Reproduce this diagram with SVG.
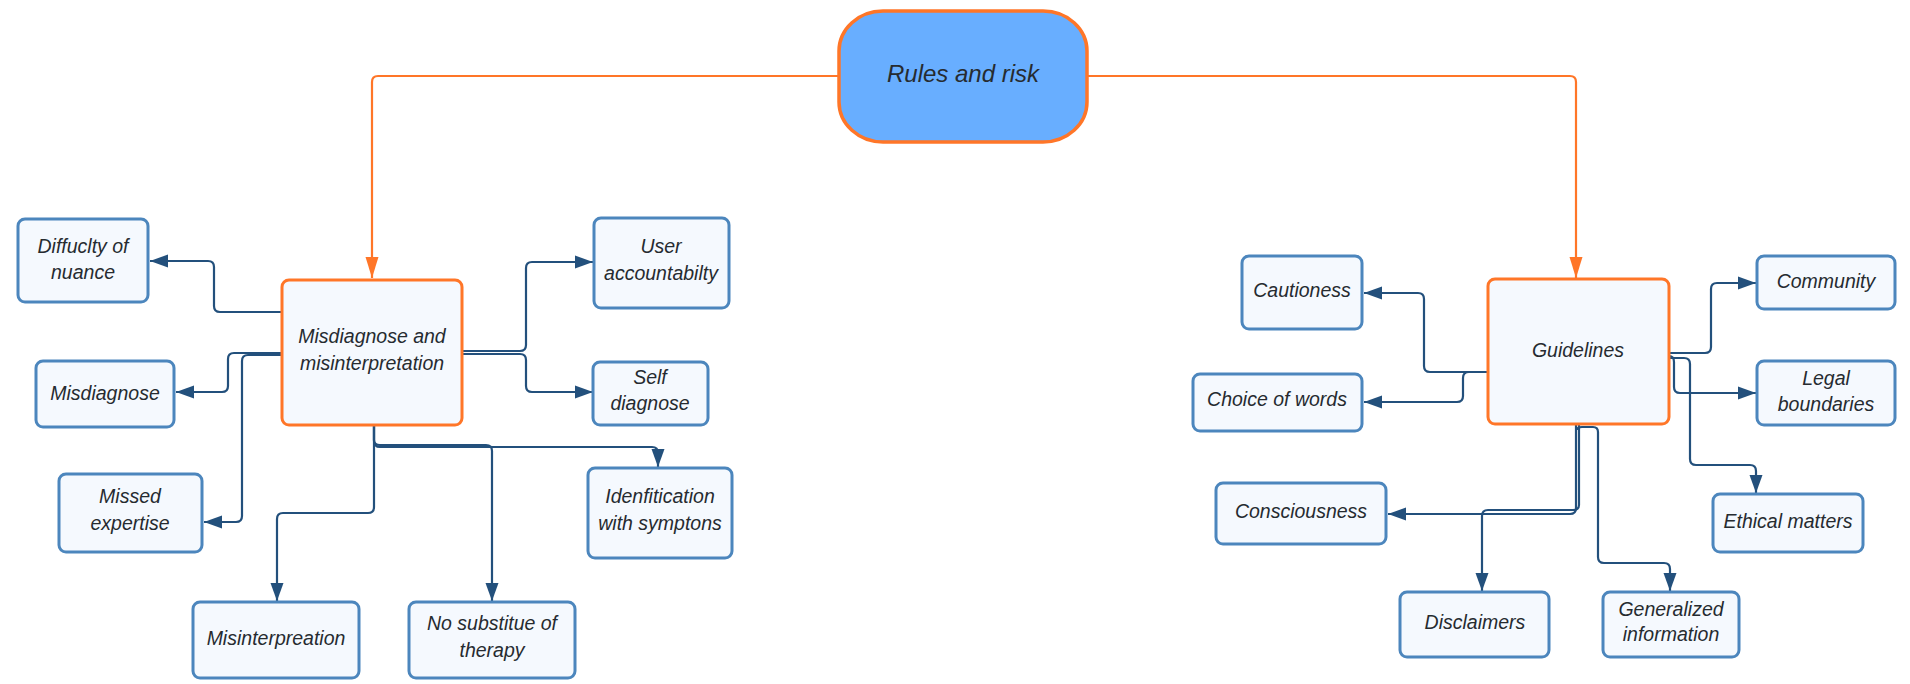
<svg xmlns="http://www.w3.org/2000/svg" width="1910" height="684" viewBox="0 0 1910 684">
<defs>
<style>
.n{fill:#F5F9FE;stroke:#4C86BD;stroke-width:3}
.h{fill:#F5F9FE;stroke:#FF7628;stroke-width:3}
.t{font-family:"Liberation Sans",Arial,sans-serif;font-style:italic;font-size:19.5px;fill:#262B30;text-anchor:middle}
.c{fill:none;stroke:#23507C;stroke-width:2.2}
.o{fill:none;stroke:#FF7628;stroke-width:2.2}
</style>
<marker id="ab" markerUnits="userSpaceOnUse" markerWidth="18" markerHeight="14" refX="18" refY="7" orient="auto"><path d="M0,0.5 L18,7 L0,13.5 z" fill="#23507C"/></marker>
<marker id="ao" markerUnits="userSpaceOnUse" markerWidth="21" markerHeight="14" refX="21" refY="7" orient="auto"><path d="M0,0.5 L21,7 L0,13.5 z" fill="#FF7628"/></marker>
</defs>
<rect width="1910" height="684" fill="#FFFFFF"/>
<g id="connectors">
<path class="o" d="M839,76 H378 Q372,76 372,82 V278" marker-end="url(#ao)"/>
<path class="o" d="M1087,76 H1570 Q1576,76 1576,82 V278" marker-end="url(#ao)"/>
<path class="c" d="M282,312 H220 Q214,312 214,306 V267 Q214,261 208,261 H150" marker-end="url(#ab)"/>
<path class="c" d="M282,353 H234 Q228,353 228,359 V386 Q228,392 222,392 H176" marker-end="url(#ab)"/>
<path class="c" d="M282,355 H248 Q242,355 242,361 V516 Q242,522 236,522 H204" marker-end="url(#ab)"/>
<path class="c" d="M462,351 H520 Q526,351 526,345 V268 Q526,262 532,262 H593" marker-end="url(#ab)"/>
<path class="c" d="M462,354 H520 Q526,354 526,360 V386 Q526,392 532,392 H593" marker-end="url(#ab)"/>
<path class="c" d="M374,425 V441 Q374,447 380,447 H652 Q658,447 658,453 V467" marker-end="url(#ab)"/>
<path class="c" d="M374,425 V440 Q374,445 380,445 H486 Q492,445 492,451 V601" marker-end="url(#ab)"/>
<path class="c" d="M374,425 V507 Q374,513 368,513 H283 Q277,513 277,519 V601" marker-end="url(#ab)"/>
<path class="c" d="M1488,372 H1430 Q1424,372 1424,366 V299 Q1424,293 1418,293 H1364" marker-end="url(#ab)"/>
<path class="c" d="M1488,372 H1469 Q1463,372 1463,378 V396 Q1463,402 1457,402 H1364" marker-end="url(#ab)"/>
<path class="c" d="M1669,353 H1705 Q1711,353 1711,347 V289 Q1711,283 1717,283 H1756" marker-end="url(#ab)"/>
<path class="c" d="M1669,356 Q1674,356 1674,362 V387 Q1674,393 1680,393 H1756" marker-end="url(#ab)"/>
<path class="c" d="M1669,358 H1684 Q1690,358 1690,364 V459 Q1690,465 1696,465 H1750 Q1756,465 1756,471 V493" marker-end="url(#ab)"/>
<path class="c" d="M1576,424 V508 Q1576,514 1570,514 H1388" marker-end="url(#ab)"/>
<path class="c" d="M1579,424 V505 Q1579,510 1573,510 H1488 Q1482,510 1482,516 V591" marker-end="url(#ab)"/>
<path class="c" d="M1577,430 Q1577,427 1582,427 H1593 Q1598,427 1598,432 V557 Q1598,563 1604,563 H1664 Q1670,563 1670,569 V591" marker-end="url(#ab)"/>
</g>
<g id="root">
<rect x="839" y="11" width="248" height="131" rx="44" ry="40" fill="#68AEFF" stroke="#FF7628" stroke-width="3.5"/>
<text class="t" x="963" y="82" style="font-size:24px">Rules and risk</text>
</g>
<g id="misdiag-main">
<rect class="h" x="282" y="280" width="180" height="145" rx="7"/>
<text class="t" x="372" y="343">Misdiagnose and</text>
<text class="t" x="372" y="370">misinterpretation</text>
</g>
<g id="difficulty">
<rect class="n" x="18" y="219" width="130" height="83" rx="7"/>
<text class="t" x="83" y="253">Diffuclty of</text>
<text class="t" x="83" y="279">nuance</text>
</g>
<g id="misdiagnose">
<rect class="n" x="36" y="361" width="138" height="66" rx="7"/>
<text class="t" x="105" y="400">Misdiagnose</text>
</g>
<g id="missed">
<rect class="n" x="59" y="474" width="143" height="78" rx="7"/>
<text class="t" x="130" y="503">Missed</text>
<text class="t" x="130" y="530">expertise</text>
</g>
<g id="user-acc">
<rect class="n" x="594" y="218" width="135" height="90" rx="7"/>
<text class="t" x="661" y="253">User</text>
<text class="t" x="661" y="280">accountabilty</text>
</g>
<g id="self-diag">
<rect class="n" x="593" y="362" width="115" height="63" rx="7"/>
<text class="t" x="650" y="384">Self</text>
<text class="t" x="650" y="410">diagnose</text>
</g>
<g id="identification">
<rect class="n" x="588" y="468" width="144" height="90" rx="7"/>
<text class="t" x="660" y="503">Idenfitication</text>
<text class="t" x="660" y="530">with symptons</text>
</g>
<g id="misinterpreation">
<rect class="n" x="193" y="602" width="166" height="76" rx="7"/>
<text class="t" x="276" y="645">Misinterpreation</text>
</g>
<g id="no-substitue">
<rect class="n" x="409" y="602" width="166" height="76" rx="7"/>
<text class="t" x="492" y="630">No substitue of</text>
<text class="t" x="492" y="657">therapy</text>
</g>
<g id="guidelines">
<rect class="h" x="1488" y="279" width="181" height="145" rx="7"/>
<text class="t" x="1578" y="357">Guidelines</text>
</g>
<g id="cautioness">
<rect class="n" x="1242" y="256" width="120" height="73" rx="7"/>
<text class="t" x="1302" y="297">Cautioness</text>
</g>
<g id="choice">
<rect class="n" x="1193" y="374" width="169" height="57" rx="7"/>
<text class="t" x="1277" y="406">Choice of words</text>
</g>
<g id="community">
<rect class="n" x="1757" y="256" width="138" height="53" rx="7"/>
<text class="t" x="1826" y="288">Community</text>
</g>
<g id="legal">
<rect class="n" x="1757" y="361" width="138" height="64" rx="7"/>
<text class="t" x="1826" y="385">Legal</text>
<text class="t" x="1826" y="411">boundaries</text>
</g>
<g id="ethical">
<rect class="n" x="1713" y="494" width="150" height="58" rx="7"/>
<text class="t" x="1788" y="528">Ethical matters</text>
</g>
<g id="consciousness">
<rect class="n" x="1216" y="483" width="170" height="61" rx="7"/>
<text class="t" x="1301" y="518">Consciousness</text>
</g>
<g id="disclaimers">
<rect class="n" x="1400" y="592" width="149" height="65" rx="7"/>
<text class="t" x="1475" y="629">Disclaimers</text>
</g>
<g id="generalized">
<rect class="n" x="1603" y="592" width="136" height="65" rx="7"/>
<text class="t" x="1671" y="616">Generalized</text>
<text class="t" x="1671" y="641">information</text>
</g>
</svg>
